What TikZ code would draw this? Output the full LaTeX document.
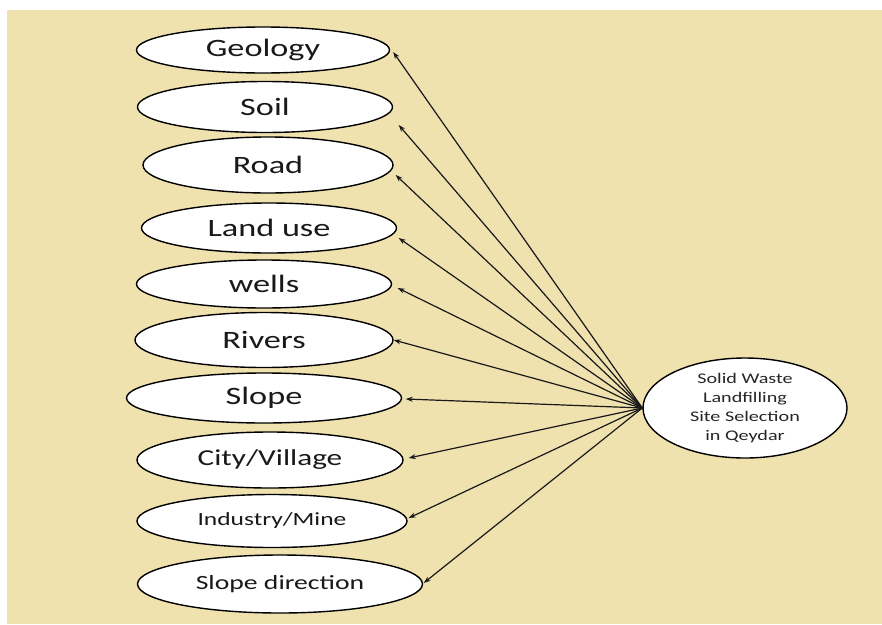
\documentclass[tikz,border=0pt]{standalone}
\usepackage{fontspec}
\setmainfont{Carlito}[FakeStretch=1.37]
\usetikzlibrary{positioning, calc, shapes.geometric, arrows.meta}
\definecolor{bgbeige}{RGB}{239,226,174}

\begin{document}
\begin{tikzpicture}[
            x=1pt, y=-1pt,
            oval/.style={ellipse, draw=black, fill=white, line width=1.4pt, inner sep=0pt, text=black!90, font=\fontsize{25}{30}\selectfont},
            hub/.style={ellipse, draw=black, fill=white, line width=1.4pt, inner sep=0pt, align=center, text=black!85, font=\fontsize{14.7}{19}\selectfont},
            link/.style={draw=black!90, line width=1.2pt, ->, >={Stealth[length=7pt, width=5pt]}}
        ]
            % --- 背景 ---
            \useasboundingbox (0,0) rectangle (882,624);
            \fill[bgbeige] (7,10) rectangle (882,624);

            % --- 要因ノード ---
            \node[oval, minimum width=253, minimum height=46] (geology) at (263,50) {Geology};
            \node[oval, minimum width=255, minimum height=51] (soil) at (265,107) {Soil};
            \node[oval, minimum width=250, minimum height=56] (road) at (268,165) {Road};
            \node[oval, minimum width=255, minimum height=50] (landuse) at (269,228) {Land use};
            \node[oval, minimum width=255, minimum height=48] (wells) at (264,284) {wells};
            \node[oval, minimum width=258, minimum height=55] (rivers) at (264,340) {Rivers};
            \node[oval, minimum width=275, minimum height=50] (slope) at (264,398) {Slope};
            \node[oval, minimum width=266, minimum height=56, font=\fontsize{22.8}{27}\selectfont] (city) at (270,460) {City/Village};
            \node[oval, minimum width=270, minimum height=53, font=\fontsize{18.6}{22}\selectfont] (industry) at (272,521) {Industry/Mine};
            \node[oval, minimum width=285, minimum height=58, font=\fontsize{20.2}{24}\selectfont] (slopedir) at (280,584) {Slope direction};

            % --- 中心ノード ---
            \node[hub, minimum width=204, minimum height=100] (main) at (745,408) {Solid Waste\\Landfilling\\Site Selection\\in Qeydar};

            % --- 矢印 ---
            \foreach \n/\dx/\dy in {geology/3/2, soil/5.5/18, road/2/10, landuse/1.5/10, wells/5.5/4,
                                    rivers/0/0, slope/3.5/1, city/5/-2, industry/1/-3, slopedir/0.5/-1}
                \draw[link] (main.west) -- ([shift={(\dx,\dy)}]\n.east);
        \end{tikzpicture}
\end{document}
